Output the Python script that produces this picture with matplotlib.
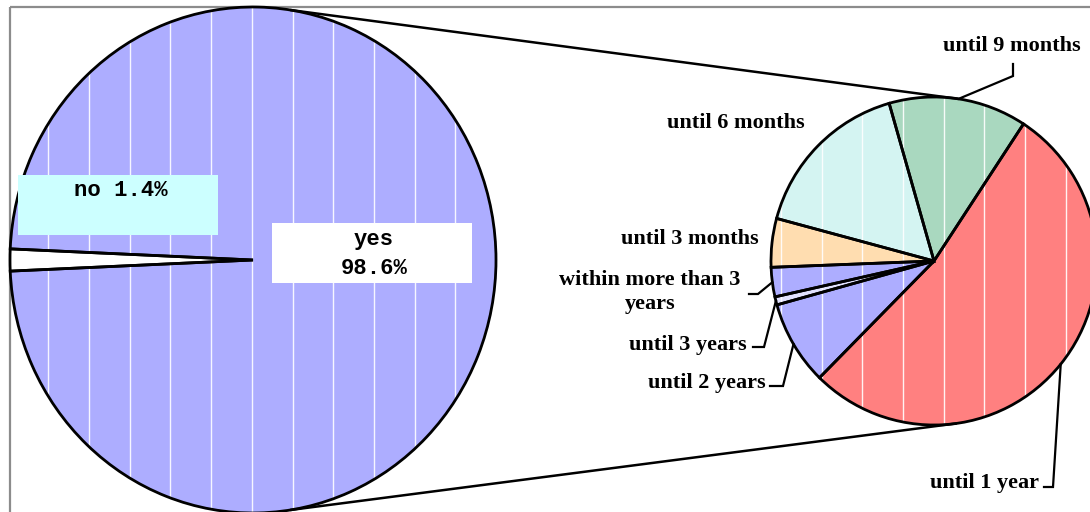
import numpy as np
import matplotlib
matplotlib.use("Agg")
import matplotlib.pyplot as plt
from matplotlib.patches import Rectangle, Ellipse

# ---------------- data ----------------
main_labels = ["no", "yes"]
main_values = [1.4, 98.6]

sub_labels = ["until 9 months", "until 6 months", "until 3 months",
              "within more than 3\nyears", "until 3 years", "until 2 years",
              "until 1 year"]
sub_values = [13.7, 16.4, 4.8, 2.9, 0.8, 8.3, 53.2]

main_colors = ["#FFFFFF", "#ADADFF"]
sub_colors = ["#A9D8BF", "#D4F4F2", "#FFDDB0", "#ADADFF", "#E2E2FF",
              "#ADADFF", "#FF8080"]

# ---------------- layout ----------------
W, H = 1090, 512
fig = plt.figure(figsize=(W / 100, H / 100), dpi=100)
fig.patch.set_facecolor("white")


def px_axes(x0, y0, x1, y1, z):
    return fig.add_axes([x0 / W, 1 - y1 / H, (x1 - x0) / W, (y1 - y0) / H], zorder=z)


def overlay_axes(z):
    a = px_axes(0, 0, W, H, z)
    a.set_xlim(0, W)
    a.set_ylim(H, 0)
    a.axis("off")
    a.patch.set_alpha(0)
    return a


LEFT = dict(cx=253, cy=260, rx=243, ry=253)
RIGHT = dict(cx=934, cy=261, rx=163, ry=164)

# background frame
bg = overlay_axes(0)
bg.add_patch(Rectangle((10, 7), W + 40, H + 40, fill=False, ec="#8C8C8C", lw=1.6))


def draw_pie(geo, values, colors, start):
    ax = px_axes(geo["cx"] - geo["rx"], geo["cy"] - geo["ry"],
                 geo["cx"] + geo["rx"], geo["cy"] + geo["ry"], 1)
    wedges, _ = ax.pie(values, colors=colors, startangle=start, counterclock=True,
                       radius=1, wedgeprops=dict(linewidth=0, zorder=1))
    # fine texture: white vertical stripes of the original fill
    xs_px = np.arange(7.6, W, 40.7)
    xs = (xs_px - geo["cx"]) / geo["rx"]
    xs = xs[(xs > -1) & (xs < 1)]
    clip = Ellipse((0, 0), 2, 2, transform=ax.transData)
    vl = ax.vlines(xs, -1, 1, colors="white", lw=1.0, zorder=2, alpha=0.9)
    vl.set_clip_path(clip)
    ax.pie(values, startangle=start, counterclock=True, radius=1,
           wedgeprops=dict(fill=False, edgecolor="black", linewidth=2.0,
                           zorder=3, clip_on=False))
    ax.set_aspect("auto")
    ax.set_xlim(-1, 1)
    ax.set_ylim(-1, 1)
    ax.axis("off")
    return ax


def edge_point(geo, deg):
    t = np.deg2rad(deg)
    return geo["cx"] + geo["rx"] * np.cos(t), geo["cy"] - geo["ry"] * np.sin(t)


main_start = 180 - main_values[0] * 3.6 / 2
sub_start = 56.7
draw_pie(LEFT, main_values, main_colors, main_start)
draw_pie(RIGHT, sub_values, sub_colors, sub_start)

ov = overlay_axes(2)

# connector lines between the two pies
for a1, a2 in [(81.2, 81.5), (-81.2, -82.0)]:
    p1 = edge_point(LEFT, a1)
    p2 = edge_point(RIGHT, a2)
    ov.plot([p1[0], p2[0]], [p1[1], p2[1]], color="black", lw=1.8,
            solid_capstyle="butt")

# main pie labels
mono = dict(family="Liberation Mono", fontweight="bold", fontsize=16, color="black")
ov.add_patch(Rectangle((18, 175), 200, 60, fc="#CCFFFF", ec="none"))
ov.text(121, 191, f"{main_labels[0]} {main_values[0]}%", ha="center", va="center", **mono)
ov.add_patch(Rectangle((272, 223), 200, 60, fc="white", ec="none"))
ov.text(374, 240, main_labels[1], ha="center", va="center", **mono)
ov.text(374, 269, f"{main_values[1]}%", ha="center", va="center", **mono)

# sub pie labels
serif = dict(family="Liberation Serif", fontweight="bold", fontsize=16, color="black")
label_pos = [(1012, 46), (736, 123), (690, 239), (650, 292), (688, 345),
             (707, 383), (985, 483)]
for lab, (x, y) in zip(sub_labels, label_pos):
    ov.text(x, y, lab, ha="center", va="center", multialignment="center",
            linespacing=1.25, **serif)

# leader lines (label elbow -> wedge middle on the rim)
fr = np.array(sub_values) / np.sum(sub_values)
mids = sub_start + 360 * (np.cumsum(fr) - fr / 2)
leaders = {0: [(1013, 64), (1013, 76)],
           3: [(749, 294), (758, 294)],
           4: [(753, 347), (764, 347)],
           5: [(770, 386), (783, 386)],
           6: [(1044, 487), (1053, 487)]}
for i, pts in leaders.items():
    end = edge_point(RIGHT, mids[i])
    xs = [p[0] for p in pts] + [end[0]]
    ys = [p[1] for p in pts] + [end[1]]
    ov.plot(xs, ys, color="black", lw=1.6, solid_joinstyle="miter")

fig.savefig("out.png", dpi=100, facecolor="white")
